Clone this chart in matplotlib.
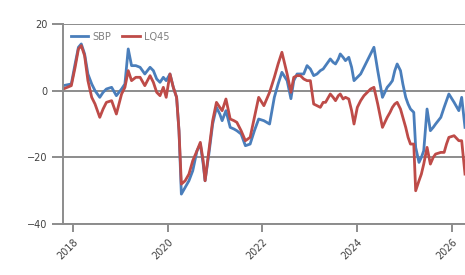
import numpy as np
import matplotlib
matplotlib.use('Agg')
import matplotlib.pyplot as plt

# decimal years and index returns (%)
years = [2017.80, 2017.97, 2018.05, 2018.12, 2018.18, 2018.25, 2018.32, 2018.40,
         2018.47, 2018.57, 2018.64, 2018.71, 2018.82, 2018.92, 2019.03, 2019.10,
         2019.17, 2019.24, 2019.33, 2019.42, 2019.52, 2019.63, 2019.70, 2019.77,
         2019.84, 2019.91, 2019.97, 2020.05, 2020.12, 2020.19, 2020.24, 2020.29,
         2020.37, 2020.45, 2020.53, 2020.62, 2020.69, 2020.75, 2020.79, 2020.87,
         2020.95, 2021.03, 2021.10, 2021.15, 2021.23, 2021.32, 2021.40, 2021.46,
         2021.55, 2021.64, 2021.74, 2021.83, 2021.92, 2022.03, 2022.15, 2022.25,
         2022.33, 2022.41, 2022.52, 2022.60, 2022.66, 2022.73, 2022.80, 2022.87,
         2022.94, 2023.01, 2023.08, 2023.15, 2023.22, 2023.28, 2023.33, 2023.43,
         2023.49, 2023.54, 2023.60, 2023.64, 2023.70, 2023.75, 2023.82, 2023.88,
         2023.93, 2024.00, 2024.07, 2024.14, 2024.21, 2024.28, 2024.35, 2024.43,
         2024.53, 2024.58, 2024.63, 2024.69, 2024.74, 2024.79, 2024.84, 2024.91,
         2024.96, 2025.02, 2025.07, 2025.12, 2025.19, 2025.23, 2025.30, 2025.35,
         2025.40, 2025.47, 2025.54, 2025.60, 2025.65, 2025.76, 2025.83, 2025.88,
         2025.93, 2026.04, 2026.14, 2026.20, 2026.27]

sbp = [1.5, 2, 8, 13, 14, 11, 5, 2,
       0, -2, -0.5, 0.5, 1, -1.5, 0.5, 2,
       12.5, 7.5, 7.5, 7, 5, 7, 6, 3.5,
       2.5, 4, 3, 5, 1, -2, -12, -31,
       -29, -27, -24, -18, -16, -22, -27, -19,
       -10, -5, -7, -9, -6, -11, -11.5, -12,
       -13, -16.5, -16, -12, -8.5, -9, -10, -2,
       2, 5.5, 3, -2.4, 3, 5, 5, 5,
       7.5, 6.5, 4.5, 5, 6, 6.5, 7.5, 9.5,
       8.5, 8, 9.5, 11, 10, 9, 10, 7,
       3, 4, 5, 7, 9, 11, 13, 6,
       -2, -0.5, 1, 2, 3, 6, 8, 6,
       2, -2, -4, -5.5, -6.5, -17, -21.5, -20,
       -18, -5.5, -12, -11, -10, -8, -5, -3,
       -1, -3.5, -6, -2, -11]

lq45 = [0.5, 1.5, 7, 12.5, 13.5, 10.5, 3, -2,
        -4, -8, -5.5, -3.5, -3, -7, -1, 1,
        6, 3, 4, 4, 1.5, 4.5, 2.5, -0.5,
        -1.5, 1, -2, 5, 1, -2, -12, -28,
        -27, -25, -21, -18, -15.5, -21, -27, -18,
        -9, -3.5, -5, -6, -2.5, -8.5, -9, -9.5,
        -12, -15, -14, -8, -2, -4.5, -0.5, 4,
        8, 11.5, 5, -0.5, 4, 4.5, 4.5, 3.5,
        3, 3, -4, -4.5, -5, -3.5, -3.5, -1,
        -2, -3, -1.5, -1, -2.5, -2, -2.5, -6,
        -10, -5, -3, -1.5, -0.5, 0.5, 1, -4,
        -11, -9.5, -8, -6.5, -5, -4, -3.5, -5.5,
        -8, -11, -14, -16, -16, -30, -27, -25,
        -22, -17, -22, -20, -19, -18.5, -18.5, -16,
        -14, -13.5, -15, -15, -25]

tick_years = [2018, 2020, 2022, 2024, 2026]
y_ticks = [-40, -20, 0, 20]

grey = '#8c8c8c'
text_grey = '#404040'

fig = plt.figure(figsize=(4.65, 2.75), dpi=100)
ax = fig.add_axes([0.135, 0.185, 0.865, 0.728])

ax.plot(years, sbp, color='#4a7ebb', lw=2.0, label='SBP')
ax.plot(years, lq45, color='#be4b48', lw=2.0, label='LQ45')

ax.set_xlim(2017.79, 2026.27)
ax.set_ylim(-40, 20)
ax.set_yticks(y_ticks)
ax.set_xticks(tick_years)
ax.set_xticklabels([str(y) for y in tick_years], rotation=45, ha='right',
                   rotation_mode='anchor')

ax.yaxis.grid(True, color=grey, lw=1.4)
ax.set_axisbelow(True)
for s in ['top', 'right']:
    ax.spines[s].set_visible(False)
for s in ['left', 'bottom']:
    ax.spines[s].set_color(grey)
    ax.spines[s].set_linewidth(1.4)

ax.tick_params(axis='y', length=8, width=1.4, color=grey, labelsize=7,
               labelcolor=text_grey, pad=3)
ax.tick_params(axis='x', length=6, width=1.4, color=grey, labelsize=7,
               labelcolor=text_grey, pad=3)

ax.legend(loc='upper left', ncol=2, frameon=False, fontsize=7,
          labelcolor='#7f7f7f', handlelength=1.8, columnspacing=1.2,
          handletextpad=0.4, borderaxespad=0.4, bbox_to_anchor=(0.0, 1.0))

fig.savefig('out.png', dpi=100)
